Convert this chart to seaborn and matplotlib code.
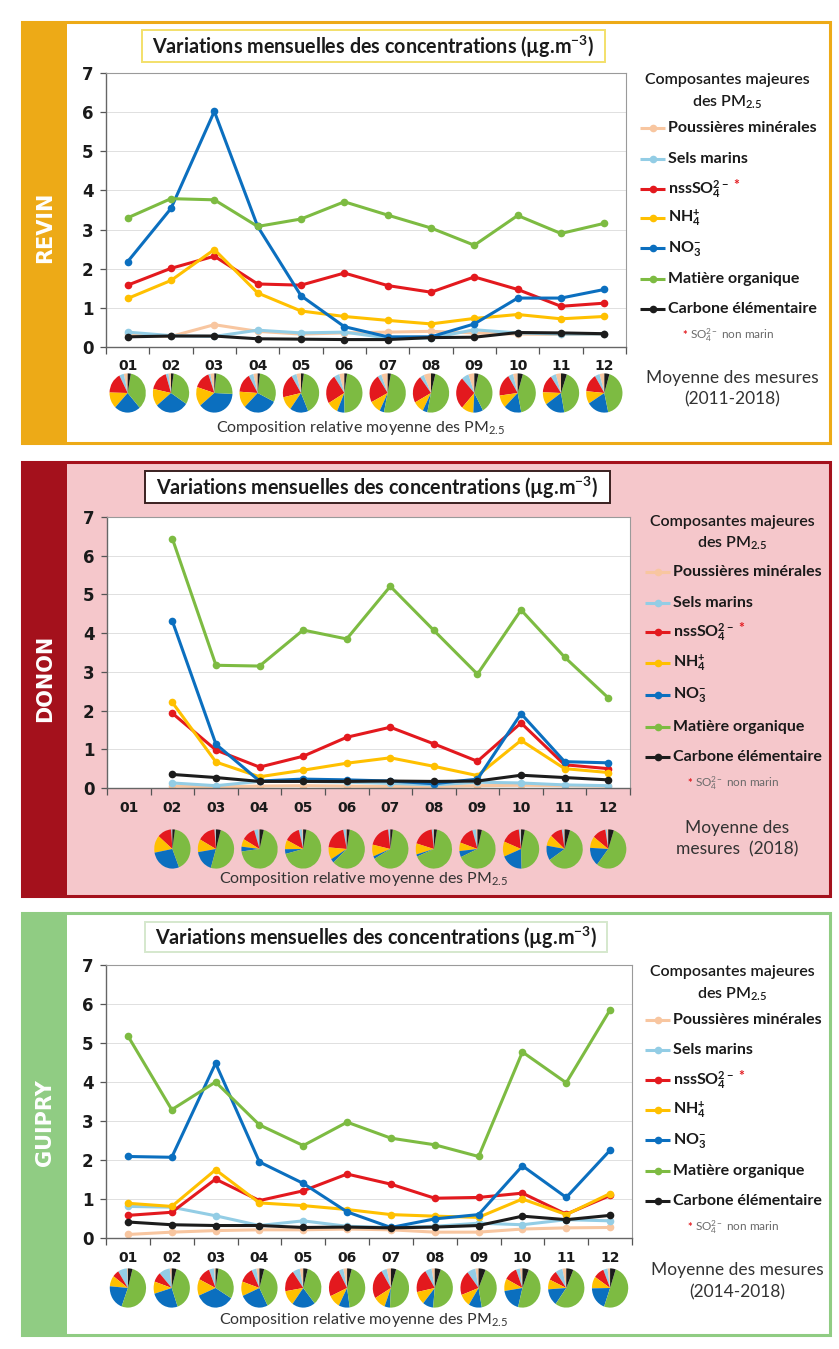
import numpy as np
import matplotlib
matplotlib.use("Agg")
import matplotlib.pyplot as plt
import seaborn as sns
from matplotlib.patches import Rectangle

sns.set_theme(style="white")
plt.rcParams["font.family"] = ["Lato", "DejaVu Sans"]
plt.rcParams["mathtext.fontset"] = "custom"
plt.rcParams["mathtext.rm"] = "Lato"
plt.rcParams["mathtext.it"] = "Lato:italic"
plt.rcParams["mathtext.bf"] = "Lato:bold"
plt.rcParams["mathtext.default"] = "regular"

# ---------------------------------------------------------------- data
MONTHS = ["01", "02", "03", "04", "05", "06", "07", "08", "09", "10", "11", "12"]
NAN = np.nan

REVIN_MINERAL = [0.32, 0.27, 0.57, 0.40, 0.33, 0.36, 0.38, 0.40, 0.36, 0.33, 0.32, 0.32]
REVIN_SEA_SALT = [0.38, 0.29, 0.27, 0.43, 0.36, 0.38, 0.23, 0.23, 0.44, 0.36, 0.33, 0.33]
REVIN_NSS_SO4 = [1.58, 2.01, 2.32, 1.61, 1.58, 1.89, 1.57, 1.40, 1.79, 1.47, 1.04, 1.12]
REVIN_NH4 = [1.24, 1.70, 2.49, 1.38, 0.92, 0.78, 0.68, 0.59, 0.73, 0.83, 0.72, 0.78]
REVIN_NO3 = [2.18, 3.54, 6.02, 3.08, 1.31, 0.52, 0.26, 0.26, 0.59, 1.25, 1.25, 1.47]
REVIN_OM = [3.30, 3.79, 3.76, 3.08, 3.27, 3.71, 3.37, 3.04, 2.60, 3.36, 2.90, 3.16]
REVIN_EC = [0.26, 0.28, 0.28, 0.21, 0.20, 0.19, 0.19, 0.24, 0.25, 0.37, 0.36, 0.34]

DONON_MINERAL = [NAN, 0.05, 0.03, 0.05, 0.06, 0.05, 0.04, 0.04, 0.06, 0.07, 0.06, 0.05]
DONON_SEA_SALT = [NAN, 0.13, 0.06, 0.17, 0.17, 0.15, 0.12, 0.08, 0.15, 0.13, 0.08, 0.06]
DONON_NSS_SO4 = [NAN, 1.93, 0.98, 0.54, 0.82, 1.31, 1.57, 1.14, 0.69, 1.68, 0.60, 0.50]
DONON_NH4 = [NAN, 2.21, 0.67, 0.29, 0.46, 0.64, 0.78, 0.56, 0.32, 1.23, 0.50, 0.40]
DONON_NO3 = [NAN, 4.31, 1.13, 0.18, 0.23, 0.21, 0.18, 0.11, 0.23, 1.92, 0.68, 0.65]
DONON_OM = [NAN, 6.44, 3.17, 3.15, 4.08, 3.85, 5.21, 4.07, 2.94, 4.60, 3.38, 2.33]
DONON_EC = [NAN, 0.35, 0.27, 0.17, 0.17, 0.17, 0.18, 0.17, 0.18, 0.33, 0.27, 0.21]

GUIPRY_MINERAL = [0.09, 0.15, 0.19, 0.21, 0.21, 0.23, 0.21, 0.15, 0.15, 0.23, 0.26, 0.27]
GUIPRY_SEA_SALT = [0.81, 0.79, 0.57, 0.32, 0.44, 0.30, 0.27, 0.30, 0.38, 0.34, 0.47, 0.44]
GUIPRY_NSS_SO4 = [0.58, 0.66, 1.51, 0.96, 1.21, 1.64, 1.38, 1.02, 1.04, 1.15, 0.61, 1.09]
GUIPRY_NH4 = [0.89, 0.81, 1.75, 0.90, 0.83, 0.73, 0.60, 0.56, 0.53, 1.00, 0.60, 1.14]
GUIPRY_NO3 = [2.09, 2.07, 4.48, 1.95, 1.40, 0.67, 0.27, 0.49, 0.60, 1.85, 1.04, 2.25]
GUIPRY_OM = [5.18, 3.29, 4.00, 2.90, 2.37, 2.97, 2.56, 2.39, 2.09, 4.77, 3.98, 5.85]
GUIPRY_EC = [0.41, 0.34, 0.32, 0.32, 0.27, 0.28, 0.26, 0.28, 0.32, 0.56, 0.47, 0.58]

COMPONENT_LABELS = [
    "Poussières minérales",
    "Sels marins",
    r"nssSO$_\mathbf{4}^\mathbf{2-}$",
    r"NH$_\mathbf{4}^\mathbf{+}$",
    r"NO$_\mathbf{3}^\mathbf{-}$",
    "Matière organique",
    "Carbone élémentaire",
]
COMPONENT_COLORS = ["#F8C6A0", "#93CDE5", "#E3191E", "#FFC000", "#0B6FBF", "#7DBB42", "#1C1C1C"]

SITE_NAMES = ["REVIN", "DONON", "GUIPRY"]
SITE_PERIODS = [
    ["Moyenne des mesures", "(2011-2018)"],
    ["Moyenne des", "mesures  (2018)"],
    ["Moyenne des mesures", "(2014-2018)"],
]
SITE_SERIES = [
    [REVIN_MINERAL, REVIN_SEA_SALT, REVIN_NSS_SO4, REVIN_NH4, REVIN_NO3, REVIN_OM, REVIN_EC],
    [DONON_MINERAL, DONON_SEA_SALT, DONON_NSS_SO4, DONON_NH4, DONON_NO3, DONON_OM, DONON_EC],
    [GUIPRY_MINERAL, GUIPRY_SEA_SALT, GUIPRY_NSS_SO4, GUIPRY_NH4, GUIPRY_NO3, GUIPRY_OM, GUIPRY_EC],
]

TITLE = r"Variations mensuelles des concentrations (µg.m$^{\mathbf{-3}}$)"

# ---------------------------------------------------------------- layout (pixels, top-left origin)
W, H = 839, 1349
PANELS = [
    dict(top=22, bottom=443, band="#EDAA17", inner="white", title_edge="#F3E06A",
         title_box=(142, 30, 605, 62), plot=(106, 73, 626, 347), pie_y=393,
         comp_y=428, head_y=(80, 102), entries=[128, 159, 189, 218, 248, 279, 309],
         note_y=335, period_y=(378, 399), leg_x=640, name_y=227),
    dict(top=462, bottom=896, band="#A4111C", inner="#F5C7CB", title_edge="#3A2020",
         title_box=(145, 471, 610, 503), plot=(107, 517, 630, 788), pie_y=849,
         comp_y=879, head_y=(522, 543), entries=[572, 603, 632, 663, 695, 727, 757],
         note_y=783, period_y=(828, 849), leg_x=645, name_y=678),
    dict(top=913, bottom=1335, band="#90CC83", inner="white", title_edge="#D5E8CD",
         title_box=(145, 922, 607, 952), plot=(106, 965, 632, 1238), pie_y=1288,
         comp_y=1320, head_y=(972, 994), entries=[1020, 1050, 1080, 1110, 1140, 1171, 1201],
         note_y=1227, period_y=(1270, 1292), leg_x=645, name_y=1123),
]

fig = plt.figure(figsize=(W / 100, H / 100), dpi=100)
fig.patch.set_facecolor("white")

bg = fig.add_axes([0, 0, 1, 1], zorder=0)
bg.set_xlim(0, W)
bg.set_ylim(H, 0)
bg.axis("off")


def px_axes(left, top, right, bottom, z=1):
    return fig.add_axes([left / W, 1 - bottom / H, (right - left) / W, (bottom - top) / H], zorder=z)


TEXT = "#1A1A1A"
x_pos = np.arange(len(MONTHS))

for name, period, series, lay in zip(SITE_NAMES, SITE_PERIODS, SITE_SERIES, PANELS):
    top, bottom = lay["top"], lay["bottom"]

    # panel frame, coloured band and site name
    bg.add_patch(Rectangle((22, top), 808, bottom - top, facecolor=lay["inner"],
                           edgecolor=lay["band"], lw=2.2))
    bg.add_patch(Rectangle((22, top), 45, bottom - top, facecolor=lay["band"], edgecolor="none"))
    bg.text(45, lay["name_y"], name, rotation=90, ha="center", va="center", color="white",
            fontsize=15, fontweight="bold", family="DejaVu Sans")

    # title box
    tx0, ty0, tx1, ty1 = lay["title_box"]
    bg.add_patch(Rectangle((tx0, ty0), tx1 - tx0, ty1 - ty0, facecolor="white",
                           edgecolor=lay["title_edge"], lw=1.4))
    bg.text((tx0 + tx1) / 2, (ty0 + ty1) / 2 + 1, TITLE, ha="center", va="center",
            fontsize=14.2, fontweight="bold", color=TEXT)

    # monthly concentration lines
    L, T, R, B = lay["plot"]
    ax = px_axes(L, T, R, B)
    ax.set_facecolor("white")
    for vals, col in zip(series, COMPONENT_COLORS):
        sns.lineplot(x=x_pos, y=np.array(vals, dtype=float), color=col, marker="o",
                     markersize=5.5, markeredgecolor=col, markeredgewidth=0,
                     linewidth=2.2, ax=ax, legend=False)
    ax.set_xlim(-0.5, 11.5)
    ax.set_ylim(0, 7)
    ax.set_yticks(range(8))
    ax.set_xticks(x_pos)
    ax.set_xticklabels(MONTHS)
    ax.set_xticks(np.arange(-0.5, 12, 1), minor=True)
    ax.tick_params(axis="x", which="major", length=0, pad=9, labelsize=10, bottom=True)
    ax.tick_params(axis="x", which="minor", length=5, width=0.9, direction="out",
                   color="#555555", bottom=True)
    ax.tick_params(axis="y", length=4, width=0.9, direction="out", color="#555555",
                   pad=5, labelsize=12, left=True)
    for lbl in ax.get_xticklabels() + ax.get_yticklabels():
        lbl.set_fontweight("bold")
        lbl.set_family("DejaVu Sans")
        lbl.set_color(TEXT)
    ax.yaxis.grid(True, color="#E0E0E0", lw=0.7)
    ax.xaxis.grid(False)
    ax.set_axisbelow(True)
    for side in ("left", "bottom"):
        ax.spines[side].set_color("#666666")
        ax.spines[side].set_linewidth(1.0)
    for side in ("top", "right"):
        ax.spines[side].set_color("#9A9A9A")
        ax.spines[side].set_linewidth(0.8)
    ax.set_xlabel("")
    ax.set_ylabel("")

    # relative composition pies under each month
    step = (R - L) / 12
    for i in range(len(MONTHS)):
        month_vals = [s[i] for s in series]
        if np.any(np.isnan(month_vals)):
            continue
        cx = L + (i + 0.5) * step
        pax = px_axes(cx - 18.5, lay["pie_y"] - 20, cx + 18.5, lay["pie_y"] + 20, z=2)
        pax.pie(month_vals, colors=COMPONENT_COLORS, startangle=90, counterclock=True,
                wedgeprops=dict(linewidth=0))
        pax.set_xlim(-1.02, 1.02)
        pax.set_ylim(-1.02, 1.02)
        pax.set_aspect("auto")
        pax.axis("off")
    bg.text((L + R) / 2 - 5, lay["comp_y"], r"Composition relative moyenne des PM$_{2.5}$",
            ha="center", va="center", fontsize=11.5, color="#333333")

    # legend
    lx = lay["leg_x"]
    hx = lx + 87
    bg.text(hx, lay["head_y"][0], "Composantes majeures", ha="center", va="center",
            fontsize=11.5, fontweight="semibold", color=TEXT)
    bg.text(hx, lay["head_y"][1], r"des PM$_{2.5}$", ha="center", va="center",
            fontsize=11.5, fontweight="semibold", color=TEXT)
    for lab, col, ey in zip(COMPONENT_LABELS, COMPONENT_COLORS, lay["entries"]):
        bg.plot([lx, lx + 25], [ey, ey], color=col, lw=2.2, solid_capstyle="butt")
        bg.plot([lx + 12.5], [ey], marker="o", ms=5.5, color=col, mew=0)
        t = bg.text(lx + 28, ey, lab, ha="left", va="center", fontsize=11.5,
                    fontweight="bold", color=TEXT)
        if lab.startswith("nss"):
            bg.annotate("*", xy=(1, 1), xycoords=t, xytext=(3, -1), textcoords="offset points",
                        ha="left", va="top", color="#E3191E", fontsize=10, fontweight="bold")
    nx = lx + 42
    bg.text(nx, lay["note_y"], "*", ha="left", va="center", color="#E3191E", fontsize=8,
            fontweight="bold")
    bg.text(nx + 8, lay["note_y"], r"SO$_4^{2-}$ non marin", ha="left", va="center",
            color="#6A6A6A", fontsize=8.5)

    # averaging period
    px = lx + 92
    bg.text(px, lay["period_y"][0], period[0], ha="center", va="center", fontsize=12.5,
            color="#333333")
    bg.text(px, lay["period_y"][1], period[1], ha="center", va="center", fontsize=12.5,
            color="#333333")

fig.savefig("out.png", dpi=100, facecolor="white")
